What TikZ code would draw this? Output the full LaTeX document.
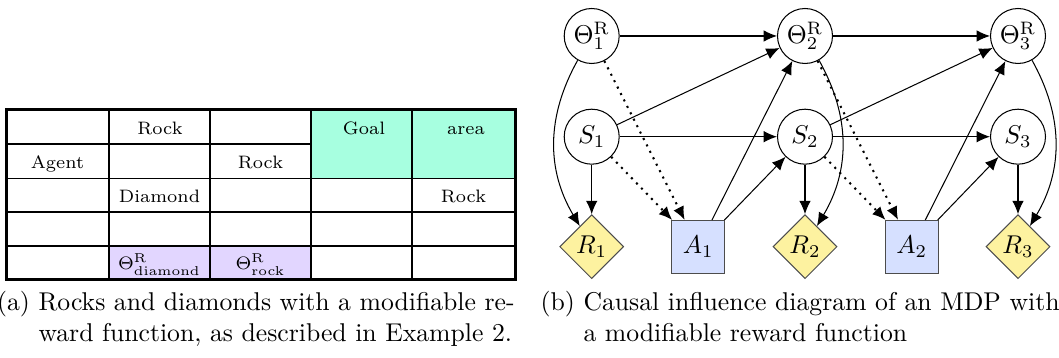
\documentclass[tikz,border=0pt]{standalone}
\usetikzlibrary{shapes.geometric,arrows.meta}
\newlength{\pxu}\setlength{\pxu}{0.389pt}
\definecolor{goalgreen}{RGB}{167,255,224}
\definecolor{thetapurple}{RGB}{226,214,255}
\definecolor{rewardyellow}{RGB}{253,242,160}
\definecolor{actionblue}{RGB}{214,224,255}
\begin{document}
\begin{tikzpicture}[x=\pxu,y=-\pxu]
    \tikzstyle{every node}=[inner sep=1]
    \tikzstyle{cell}=[font=\scriptsize, anchor=base]
    \tikzstyle{captext}=[anchor=base west, inner sep=0]
    \tikzstyle{chance}=[draw, circle, minimum size=55\pxu, inner sep=0]
    \tikzstyle{utility}=[draw=black!70, fill=rewardyellow, diamond, minimum width=64\pxu, minimum height=64\pxu, inner sep=0]
    \tikzstyle{decision}=[draw=black!70, fill=actionblue, rectangle, minimum size=53\pxu, inner sep=0]
    \tikzstyle{arr}=[-{Latex[length=5.2pt,width=4.5pt]}]
    \useasboundingbox (0,0) rectangle (1059,358);
    % grid world
    \fill[goalgreen] (311,109.5) rectangle (515,178.7);
    \fill[thetapurple] (109,246) rectangle (311,280);
    \foreach \y in {178.7,212,246} \draw[line width=1.6\pxu] (6,\y) -- (515,\y);
    \draw[line width=1.6\pxu] (6,144.3) -- (311,144.3);
    \foreach \x in {109,210,311,412} \draw[line width=1.6\pxu] (\x,109.5) -- (\x,280);
    \draw[line width=3\pxu] (6,109.5) rectangle (515,280);
    \node[cell] (rock1) at (160,135) {Rock};
    \node[cell] (goal) at (364,135) {Goal};
    \node[cell] (area) at (466,135) {area};
    \node[cell] (agent) at (57.5,169) {Agent};
    \node[cell] (rock2) at (260.5,169) {Rock};
    \node[cell] (diamond) at (159.5,203) {Diamond};
    \node[cell] (rock3) at (463.5,203) {Rock};
    \node[cell] (thdiamond) at (159.5,270) {$\Theta^{\mathrm{R}}_{\mathrm{diamond}}$};
    \node[cell] (throck) at (260.5,270) {$\Theta^{\mathrm{R}}_{\mathrm{rock}}$};
    % influence diagram
    \node[chance] (T1) at (591.7,36) {$\Theta^{\mathrm{R}}_1$};
    \node[chance] (T2) at (805,36) {$\Theta^{\mathrm{R}}_2$};
    \node[chance] (T3) at (1018,36) {$\Theta^{\mathrm{R}}_3$};
    \node[chance] (S1) at (591.7,136.7) {$S_1$};
    \node[chance] (S2) at (805,136.7) {$S_2$};
    \node[chance] (S3) at (1018,136.7) {$S_3$};
    \node[utility] (R1) at (591.7,246.7) {$R_1$};
    \node[decision] (A1) at (698.3,247) {$A_1$};
    \node[utility] (R2) at (805,246.7) {$R_2$};
    \node[decision] (A2) at (911.7,247) {$A_2$};
    \node[utility] (R3) at (1018,246.7) {$R_3$};
    \draw[arr] (T1) -- (T2);
    \draw[arr] (T2) -- (T3);
    \draw[arr] (S1) -- (S2);
    \draw[arr] (S2) -- (S3);
    \draw[arr] (S1) -- (T2);
    \draw[arr] (S2) -- (T3);
    \draw[arr] (A1) -- (T2);
    \draw[arr] (A2) -- (T3);
    \draw[arr] (A1) -- (S2);
    \draw[arr] (A2) -- (S3);
    \draw[arr] (S1) -- (R1);
    \draw[arr] (S2) -- (R2);
    \draw[arr] (S3) -- (R3);
    \draw[arr] (T1) to[bend right=30] (R1);
    \draw[arr] (T2) to[bend left=30] (R2);
    \draw[arr] (T3) to[bend left=30] (R3);
    \draw[arr, dotted, thick] (T1) -- (A1);
    \draw[arr, dotted, thick] (S1) -- (A1);
    \draw[arr, dotted, thick] (T2) -- (A2);
    \draw[arr, dotted, thick] (S2) -- (A2);
    % captions
    \node[captext] (labela) at (-3.5,311) {(a)};
    \node[captext] (capa1) at (38,311) {\makebox[185.2pt][s]{Rocks and diamonds with a modifiable re-}};
    \node[captext] (capa2) at (38,342) {ward function, as described in Example 2.};
    \node[captext] (labelb) at (540,311) {(b)};
    \node[captext] (capb1) at (583,311) {\makebox[185.2pt][s]{Causal influence diagram of an MDP with}};
    \node[captext] (capb2) at (583,342) {a modifiable reward function};
\end{tikzpicture}
\end{document}
